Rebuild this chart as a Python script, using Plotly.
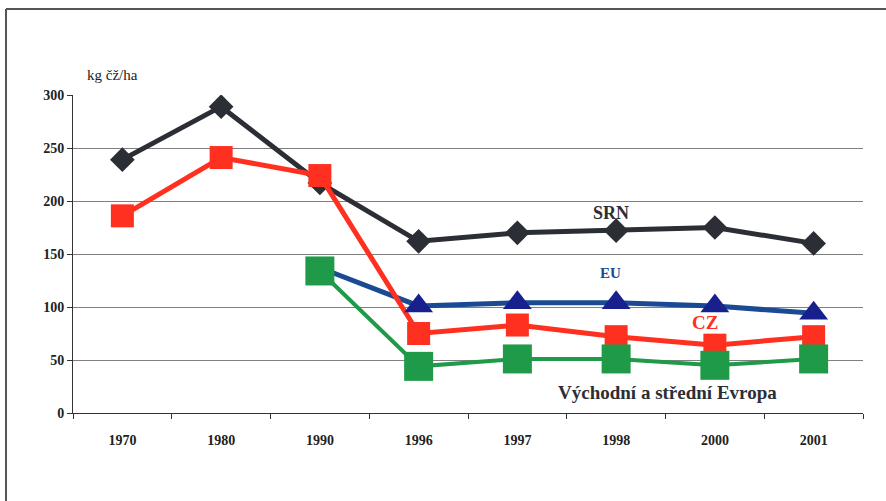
import plotly.graph_objects as go

years = ["1970", "1980", "1990", "1996", "1997", "1998", "2000", "2001"]
srn = [239, 289, 217, 162, 170, 172, 175, 160]
cz = [186, 241, 224, 75, 83, 72, 64, 72]
eu = [None, None, 137, 101, 104, 104, 101, 94]
ves = [None, None, 134, 44, 51, 51, 45, 51]
y_ticks = [0, 50, 100, 150, 200, 250, 300]

SERIF = "Liberation Serif, Times New Roman, serif"
fig = go.Figure()

fig.add_trace(go.Scatter(x=years, y=srn, mode="lines+markers", name="SRN",
    line=dict(color="#2b2e34", width=5),
    marker=dict(symbol="diamond", size=19, color="#2b2e34")))
fig.add_trace(go.Scatter(x=years, y=eu, mode="lines", name="EU_line",
    line=dict(color="#1a4a94", width=5), connectgaps=False))
fig.add_trace(go.Scatter(x=years, y=cz, mode="lines+markers", name="CZ",
    line=dict(color="#ff3020", width=5),
    marker=dict(symbol="square", size=23, color="#ff3020")))
fig.add_trace(go.Scatter(x=years[3:], y=eu[3:], mode="markers", name="EU",
    marker=dict(symbol="triangle-up", size=25, color="#17208c")))
fig.add_trace(go.Scatter(x=years, y=ves, mode="lines+markers", name="VSE",
    line=dict(color="#1f9a48", width=4),
    marker=dict(symbol="square", size=29, color="#1f9a48")))

annotations = [
    dict(x=4.95, y=189, text="<b>SRN</b>", font=dict(family=SERIF, size=18, color="#2b2e34")),
    dict(x=4.94, y=132, text="<b>EU</b>", font=dict(family=SERIF, size=15, color="#1a4a94")),
    dict(x=5.9, y=85, text="<b>CZ</b>", font=dict(family=SERIF, size=19, color="#ff3020")),
    dict(x=5.52, y=19, text="<b>Východní a střední Evropa</b>", font=dict(family=SERIF, size=19, color="#2b2e34")),
]
for a in annotations:
    a.update(xref="x", yref="y", showarrow=False)
annotations.append(dict(xref="paper", yref="paper", x=(112 - 73) / 790, y=(413 - 75) / 318,
    xanchor="center", yanchor="middle",
    text="kg čž/ha", showarrow=False, font=dict(family=SERIF, size=15, color="#222")))

ml, mr, mt, mb = 73, 23, 95, 88
pw, ph = 886 - ml - mr, 501 - mt - mb
def px(x): return (x - ml) / pw
def py(y): return (501 - mb - y) / ph

shapes = [
    dict(type="line", xref="paper", yref="paper", x0=px(6), x1=px(6), y0=py(9), y1=py(505),
         line=dict(color="#555", width=2)),
    dict(type="line", xref="paper", yref="paper", x0=px(6), x1=px(890), y0=py(9), y1=py(9),
         line=dict(color="#555", width=2)),
]

fig.update_layout(
    width=886, height=501,
    margin=dict(l=ml, r=mr, t=mt, b=mb),
    paper_bgcolor="white", plot_bgcolor="white",
    showlegend=False,
    annotations=annotations, shapes=shapes,
    xaxis=dict(type="category", categoryorder="array", categoryarray=years,
               range=[-0.5, 7.5], showgrid=False, showline=True, linecolor="#333", linewidth=1,
               ticks="outside", tickson="boundaries", ticklen=5, tickcolor="#333",
               ticklabelstandoff=14,
               tickfont=dict(family=SERIF, size=14, color="#222"),
               tickvals=years, ticktext=["<b>%s</b>" % y for y in years], zeroline=False),
    yaxis=dict(range=[0, 300], tickvals=y_ticks, ticktext=["<b>%d</b>" % v for v in y_ticks],
               showgrid=True, gridcolor="#808080", gridwidth=1,
               showline=True, linecolor="#333", linewidth=1,
               ticks="outside", ticklen=5, tickcolor="#333",
               tickfont=dict(family=SERIF, size=14, color="#222"), zeroline=False),
)

fig.write_html("out.html", config={"displayModeBar": False},
               post_script="document.body.style.margin='0';document.body.style.overflow='hidden';")
